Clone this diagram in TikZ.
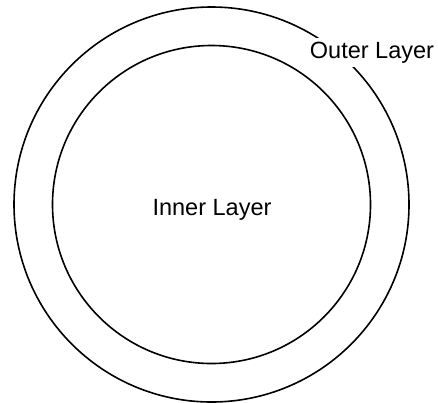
\documentclass[tikz,border=0pt]{standalone}
\usepackage{fontspec}
\setmainfont{Liberation Sans}
\tikzset{
  ring/.style={draw=black, line width=1.6pt},
  lbl/.style={font=\fontsize{23.5}{28}\selectfont, anchor=base, inner sep=0pt},
}
\begin{document}
\begin{tikzpicture}[x=1pt,y=-1pt]
\useasboundingbox (0,0) rectangle (438,402);
\coordinate (c) at (211.5,204.5);
\draw[ring] (c) circle[radius=197.5];
\draw[ring] (c) circle[radius=159];
\node[lbl] (inner) at (212,215) {Inner Layer};
\node[lbl, fill=white, inner xsep=2pt, inner ysep=4pt] (outer) at (372,58) {Outer Layer};
\end{tikzpicture}
\end{document}
